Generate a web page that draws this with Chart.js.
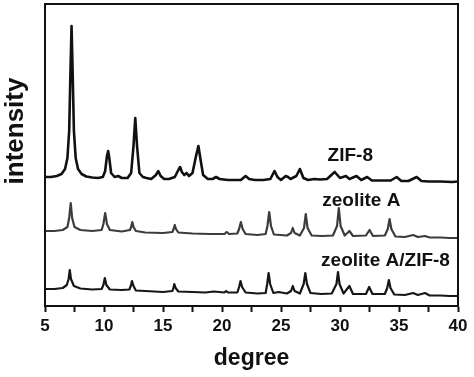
<!DOCTYPE html>
<html>
<head>
<meta charset="utf-8">
<script src="https://cdn.jsdelivr.net/npm/chart.js@4.4.0/dist/chart.umd.min.js"></script>
<style>
    html, body { margin: 0; padding: 0; background: #fff; }
    #wrap { width: 474px; height: 377px; }
</style>
</head>
<body>
<div id="wrap"><canvas id="xrd"></canvas></div>
<script>
// XRD patterns, offset vertically (arbitrary units)
const xTicks = [5, 10, 15, 20, 25, 30, 35, 40];

const zif8 = [
    [5.0, 129], [5.5, 129], [6.0, 130], [6.4, 132], [6.7, 137], [6.9, 148], [7.05, 175], [7.15, 230],
    [7.25, 280], [7.35, 230], [7.45, 175], [7.6, 148], [7.8, 137], [8.1, 132], [8.5, 129.5], [9.0, 128.5],
    [9.5, 128], [9.9, 129], [10.1, 135], [10.25, 150], [10.35, 155], [10.45, 148], [10.6, 133], [10.9, 129],
    [11.2, 130], [11.5, 128], [12.0, 128], [12.3, 133], [12.5, 160], [12.65, 188], [12.8, 160], [13.0, 133],
    [13.3, 129], [13.6, 128], [14.0, 127], [14.4, 131], [14.6, 135], [14.8, 130], [15.1, 127], [15.5, 127],
    [16.0, 129], [16.3, 136], [16.45, 139], [16.6, 134], [16.8, 131], [17.0, 133], [17.2, 130], [17.5, 133],
    [17.8, 150], [18.0, 160], [18.2, 145], [18.4, 131], [18.8, 127], [19.2, 127], [19.5, 129], [19.8, 127],
    [20.5, 126], [21.0, 126], [21.6, 126], [22.0, 130], [22.3, 127], [22.8, 126], [23.5, 126], [24.1, 127],
    [24.45, 135], [24.7, 129], [25.0, 126], [25.4, 130], [25.6, 129], [25.8, 127], [26.3, 130], [26.6, 137],
    [26.9, 128], [27.3, 126], [27.8, 127], [28.3, 126.5], [28.9, 127], [29.55, 134], [30.0, 128], [30.5, 130],
    [30.8, 127], [31.4, 130], [31.8, 126], [32.3, 129], [32.7, 125.5], [33.3, 125.5], [34.3, 125.5], [34.8, 129],
    [35.2, 125], [35.8, 125], [36.5, 129], [36.9, 125], [37.5, 124.5], [38.5, 124.5], [39.5, 124], [40.0, 124.5]
];

const zeoliteA = [
    [5.0, 75], [5.8, 75], [6.5, 76], [6.9, 79], [7.05, 88], [7.18, 103], [7.3, 88], [7.5, 79],
    [8.0, 76], [9.0, 75], [9.8, 76], [9.95, 82], [10.1, 93], [10.25, 82], [10.5, 76], [11.5, 74.5],
    [12.2, 76], [12.3, 79], [12.4, 84], [12.5, 79], [12.7, 75], [13.5, 73.5], [15.0, 73], [15.8, 74],
    [15.9, 77], [16.0, 81], [16.1, 77], [16.3, 73.5], [17.5, 72.5], [19.0, 72], [20.2, 72], [20.4, 74],
    [20.6, 72], [21.3, 72.5], [21.45, 77], [21.6, 84], [21.75, 77], [22.0, 72], [23.0, 71], [23.7, 72],
    [23.85, 80], [24.0, 94], [24.15, 80], [24.4, 71.5], [25.5, 70.5], [25.85, 73], [26.0, 78], [26.15, 73],
    [26.6, 70.5], [26.95, 78], [27.1, 92], [27.25, 78], [27.6, 70.5], [28.5, 70], [29.4, 70.5], [29.75, 80],
    [29.9, 98], [30.05, 80], [30.4, 70.5], [30.8, 75], [31.1, 70], [32.2, 70.5], [32.5, 76], [32.8, 70],
    [33.8, 70.5], [34.05, 77], [34.2, 87], [34.35, 77], [34.7, 69.5], [35.5, 69], [36.2, 71], [36.6, 69],
    [37.2, 70], [37.6, 68.5], [38.5, 68.5], [39.3, 68], [40.0, 68]
];

const compositeAZ = [
    [5.0, 17], [5.8, 17], [6.5, 18], [6.85, 21], [7.0, 27], [7.1, 36], [7.2, 27], [7.45, 20],
    [8.0, 17.5], [9.0, 16.5], [9.8, 17], [9.95, 21], [10.07, 28], [10.2, 21], [10.5, 16.5], [11.5, 16],
    [12.15, 16.5], [12.27, 20], [12.37, 25], [12.5, 20], [12.7, 15.5], [13.5, 15], [15.0, 14], [15.8, 15],
    [15.88, 18], [15.96, 22], [16.07, 18], [16.3, 14.5], [17.5, 14], [18.6, 13.5], [19.3, 14.5], [20.2, 13.5],
    [20.35, 15], [20.5, 13.5], [21.3, 13.5], [21.45, 19], [21.57, 25], [21.7, 19], [22.0, 13.5], [23.0, 12.5],
    [23.7, 13], [23.83, 22], [23.95, 33], [24.08, 22], [24.35, 13], [24.8, 14], [25.5, 12.5], [25.85, 15],
    [26.0, 20], [26.15, 15], [26.6, 12.5], [26.92, 22], [27.06, 33], [27.2, 22], [27.5, 13], [28.4, 12],
    [29.3, 12.5], [29.7, 22], [29.83, 34], [29.96, 22], [30.3, 12.5], [30.8, 20], [31.1, 12], [32.2, 12],
    [32.47, 19], [32.75, 12], [33.8, 12], [34.0, 18], [34.14, 26], [34.28, 18], [34.6, 11.5], [35.5, 11],
    [36.2, 13], [36.6, 11], [37.2, 13], [37.6, 10.5], [38.5, 10.5], [39.3, 10], [40.0, 10]
];

const seriesNames = ['ZIF-8', 'zeolite A', 'zeolite A/ZIF-8'];

const toPoints = arr => arr.map(p => ({ x: p[0], y: p[1] }));

// frame round the plot area and the free-standing texts
const decorations = {
    id: 'decorations',
    afterDraw(chart) {
        const ctx = chart.ctx;
        const a = chart.chartArea;
        const xs = chart.scales.x;
        const ys = chart.scales.y;
        ctx.save();
        ctx.strokeStyle = '#111';
        ctx.lineWidth = 2;
        ctx.strokeRect(a.left, a.top, a.right - a.left, a.bottom - a.top);

        ctx.fillStyle = '#111';
        ctx.font = 'bold 19px "Liberation Sans", Arial, sans-serif';
        ctx.textBaseline = 'alphabetic';
        ctx.textAlign = 'left';
        ctx.fillText(seriesNames[0], xs.getPixelForValue(28.95), ys.getPixelForValue(145));
        ctx.fillText(seriesNames[1], xs.getPixelForValue(28.5), ys.getPixelForValue(100));
        ctx.fillText(seriesNames[2], xs.getPixelForValue(28.4), ys.getPixelForValue(40));

        ctx.font = 'bold 26px "Liberation Sans", Arial, sans-serif';
        ctx.translate(16, 131);
        ctx.rotate(-Math.PI / 2);
        ctx.textAlign = 'center';
        ctx.textBaseline = 'middle';
        ctx.fillText('intensity', 0, 0);
        ctx.restore();
    }
};

new Chart(document.getElementById('xrd'), {
    type: 'line',
    data: {
        datasets: [
            { label: seriesNames[0], data: toPoints(zif8), borderColor: '#111', borderWidth: 2.6 },
            { label: seriesNames[1], data: toPoints(zeoliteA), borderColor: '#3c3c3c', borderWidth: 2.2 },
            { label: seriesNames[2], data: toPoints(compositeAZ), borderColor: '#161616', borderWidth: 2.2 }
        ]
    },
    options: {
        responsive: true,
        maintainAspectRatio: false,
        animation: false,
        elements: {
            point: { radius: 0 },
            line: { tension: 0, borderJoinStyle: 'round' }
        },
        layout: {
            padding: { left: 45, right: 16, top: 4, bottom: 3 }
        },
        plugins: {
            legend: { display: false },
            tooltip: { enabled: false }
        },
        scales: {
            x: {
                type: 'linear',
                min: 5,
                max: 40,
                afterBuildTicks: scale => {
                    const t = [];
                    for (let v = 5; v <= 40; v += 2.5) t.push({ value: v });
                    scale.ticks = t;
                },
                grid: {
                    drawOnChartArea: false,
                    tickLength: 6,
                    tickWidth: 2,
                    tickColor: '#111'
                },
                border: { color: '#111', width: 2 },
                ticks: {
                    autoSkip: false,
                    maxRotation: 0,
                    padding: 4,
                    color: '#111',
                    font: { family: '"Liberation Sans", Arial, sans-serif', size: 17, weight: 'bold' },
                    callback: v => xTicks.includes(v) ? String(v) : ''
                },
                title: {
                    display: true,
                    text: 'degree',
                    color: '#111',
                    padding: { top: 4, bottom: 2 },
                    font: { family: '"Liberation Sans", Arial, sans-serif', size: 23, weight: 'bold' }
                }
            },
            y: {
                display: false,
                min: 0,
                max: 302
            }
        }
    },
    plugins: [decorations]
});
</script>
</body>
</html>
